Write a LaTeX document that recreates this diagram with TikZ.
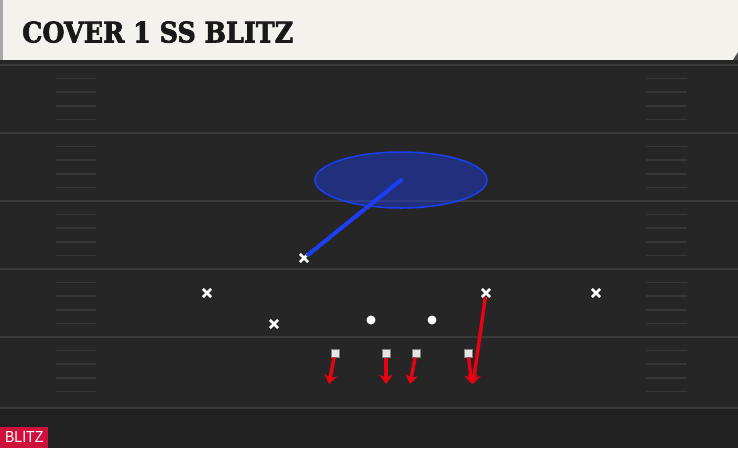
\documentclass[tikz,border=0pt]{standalone}
\usepackage{fontspec}
\setmainfont{Liberation Sans}
\newfontfamily\titlefont{DejaVu Serif}[BoldFeatures={FakeBold=2.5}]
\usepackage{tikz}
\usetikzlibrary{
  arrows.meta, positioning, shapes.geometric, shapes.misc, calc
}
\usepackage{xcolor}
\definecolor{headercream}{RGB}{244, 242, 236}
\definecolor{fieldgray}{RGB}{38, 38, 38}
\definecolor{yardgray}{RGB}{58, 58, 58}
\definecolor{hashgray}{RGB}{54, 54, 54}
\definecolor{zoneblue}{RGB}{28, 62, 245}
\definecolor{blitzred}{RGB}{230, 0, 18}
\definecolor{tagred}{RGB}{206, 16, 58}

\begin{document}
\begin{tikzpicture}[x=1pt, y=-1pt,
    defender/.style={cross out, draw=white, line width=2.6pt, minimum size=5.5pt, inner sep=0pt},
    back/.style={circle, fill=white, minimum size=9pt, inner sep=0pt},
    lineman/.style={rectangle, fill=white!90!black, draw=black!50, line width=0.5pt, minimum size=8.5pt, inner sep=0pt},
    blitz/.style={draw=blitzred, line width=3.5pt, -{Stealth[length=9pt, width=13pt, inset=2.5pt]}},
    zonepath/.style={draw=zoneblue, line width=4pt, line cap=round}]
        \useasboundingbox (0,0) rectangle (738,448);
        % field
        \fill[fieldgray] (0,60) rectangle (738,448);
        \fill[black!85] (0,60) rectangle (738,64);
        \fill[black!87] (0,409) rectangle (738,448);
        \foreach \yl in {65,133,201,269,337,408}
          \draw[yardgray, line width=2pt] (0,\yl) -- (738,\yl);
        \foreach \yl in {65,133,201,269,337}
          \foreach \k in {1,...,4} {
            \draw[hashgray, line width=1.5pt] (56,\yl+13.6*\k) -- (96,\yl+13.6*\k);
            \draw[hashgray, line width=1.5pt] (646,\yl+13.6*\k) -- (687,\yl+13.6*\k);
          }
        % header
        \fill[headercream] (0,0) rectangle (738,60);
        \fill[black!35] (0,0) rectangle (3,60);
        \fill[black!70] (733,60) -- (738,52) -- (738,60) -- cycle;
        \node[anchor=south west, inner sep=0pt, text=black!90] (title) at (22,43)
          {\resizebox{271pt}{21pt}{\titlefont\bfseries COVER 1 SS BLITZ}};
        % zone
        \node[ellipse, minimum width=172pt, minimum height=56pt, fill=zoneblue,
          fill opacity=0.42, draw=zoneblue, line width=1.5pt] (zone) at (401,180) {};
        % defense
        \node[defender] (ss) at (304,258) {};
        \node[defender] (cbl) at (207,293) {};
        \node[defender] (lb) at (274,324) {};
        \node[defender] (ncb) at (486,293) {};
        \node[defender] (cbr) at (596,293) {};
        % offense
        \node[back] (rbl) at (371,320) {};
        \node[back] (rbr) at (432,320) {};
        \node[lineman] (ol1) at (335,353) {};
        \node[lineman] (ol2) at (386,353) {};
        \node[lineman] (ol3) at (416,353) {};
        \node[lineman] (ol4) at (468,353) {};
        \coordinate (e1) at (329,384);
        \coordinate (e2) at (386,384);
        \coordinate (e3) at (410,384);
        \coordinate (e4) at (472,384);
        \coordinate (e5) at (473,384);
        % routes
        \draw[zonepath] (ss) -- (zone.center);
        \draw[blitz] (ol1) -- (e1);
        \draw[blitz] (ol2) -- (e2);
        \draw[blitz] (ol3) -- (e3);
        \draw[blitz] (ol4) -- (e4);
        \draw[blitz] (ncb) -- (e5);
        % tag
        \node[fill=tagred, anchor=south west, minimum width=48pt, minimum height=21pt,
          inner sep=0pt, text=white, font=\fontsize{16}{16}\selectfont] (tag) at (0,448)
          {\scalebox{0.88}[1]{BLITZ}};
      \end{tikzpicture}
\end{document}
